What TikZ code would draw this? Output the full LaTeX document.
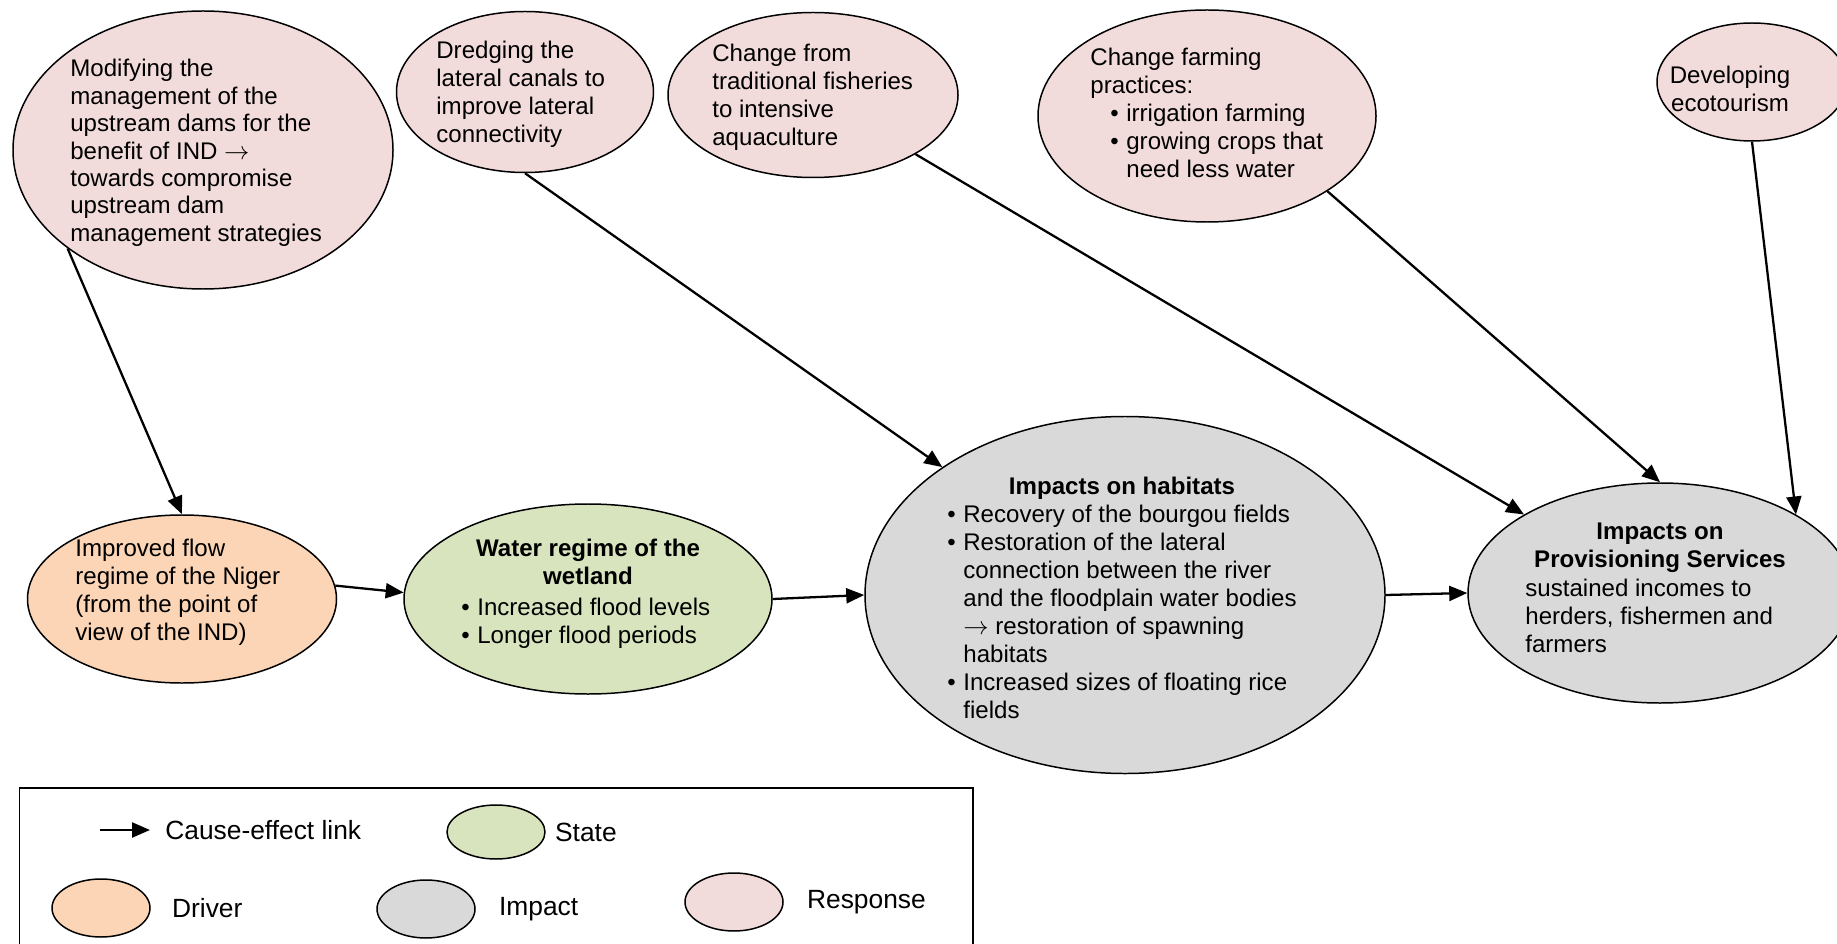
\documentclass[tikz,border=0pt]{standalone}
\usepackage{fontspec}
\setmainfont{Liberation Sans}
\usepackage{tikz}
\usetikzlibrary{arrows.meta,positioning,shapes.geometric}
\definecolor{respfill}{HTML}{F2DCDB}
\definecolor{drvfill}{HTML}{FBD5B5}
\definecolor{statefill}{HTML}{D7E4BD}
\definecolor{impfill}{HTML}{D9D9D9}
\newlength\bulletw
\setlength\bulletw{3.2mm}
\newcommand\itm{\makebox[\bulletw][l]{\textbullet}}
\newcommand\itmgap{\hspace*{\bulletw}}

\begin{document}
\begin{tikzpicture}[
      x=0.2mm,y=-0.2mm,
      every node/.style={font=\fontsize{13.7}{15.9}\selectfont},
      ell/.style={ellipse,draw=black,line width=0.85pt,inner sep=0pt},
      resp/.style={ell,fill=respfill},
      drv/.style={ell,fill=drvfill},
      stat/.style={ell,fill=statefill},
      impc/.style={ell,fill=impfill},
      txt/.style={inner sep=0pt,align=left,anchor=north west},
      ttl/.style={inner sep=0pt,align=center,anchor=north,font=\fontsize{13.7}{15.9}\selectfont\bfseries},
      link/.style={-{Triangle[length=3.6mm,width=3mm]},line width=1.3pt},
      leg/.style={inner sep=0pt,font=\fontsize{15}{18}\selectfont}
    ]
    \useasboundingbox (0,0) rectangle (1837,944);

    \node[resp,minimum width=76mm,minimum height=55.6mm] (mod) at (203,150) {};
    \node[txt,font=\fontsize{13.7}{15.6}\selectfont] at (70,59) {Modifying the\\management of the\\upstream dams for the\\benefit of IND $\rightarrow$\\towards compromise\\upstream dam\\management strategies};

    \node[resp,minimum width=51.4mm,minimum height=32.2mm] (dred) at (525,92) {};
    \node[txt] at (436,41) {Dredging the\\lateral canals to\\improve lateral\\connectivity};

    \node[resp,minimum width=58mm,minimum height=33mm] (fish) at (813,95) {};
    \node[txt] at (712,44) {Change from\\traditional fisheries\\to intensive\\aquaculture};

    \node[resp,minimum width=67.6mm,minimum height=42.4mm] (farm) at (1207,116) {};
    \node[txt] at (1090,48) {Change farming\\practices:\\\hspace*{4mm}\itm irrigation farming\\\hspace*{4mm}\itm growing crops that\\\hspace*{4mm}\itmgap need less water};

    \node[resp,minimum width=38mm,minimum height=23.6mm] (eco) at (1752,82) {};
    \node[txt,align=center,anchor=north] at (1730,66) {Developing\\ecotourism};

    \node[drv,minimum width=61.8mm,minimum height=33.6mm] (flow) at (182,599) {};
    \node[txt] at (75,539) {Improved flow\\regime of the Niger\\(from the point of\\view of the IND)};

    \node[stat,minimum width=73.6mm,minimum height=38mm] (water) at (588,599) {};
    \node[ttl] at (588,539) {Water regime of the\\wetland};
    \node[txt] at (461,598) {\itm Increased flood levels\\\itm Longer flood periods};

    \node[impc,minimum width=104mm,minimum height=71.4mm] (hab) at (1125,595) {};
    \node[ttl] at (1122,477) {Impacts on habitats};
    \node[txt] at (947,505) {\itm Recovery of the bourgou fields\\\itm Restoration of the lateral\\\itmgap connection between the river\\\itmgap and the floodplain water bodies\\\itmgap $\rightarrow$ restoration of spawning\\\itmgap habitats\\\itm Increased sizes of floating rice\\\itmgap fields};

    \node[impc,minimum width=76.8mm,minimum height=44mm] (prov) at (1660,593) {};
    \node[ttl] at (1660,523) {Impacts on\\Provisioning Services};
    \node[txt] at (1525,579) {sustained incomes to\\herders, fishermen and\\farmers};

    \draw[link] (mod.216) -- (flow.north);
    \draw[link] (dred.south) -- (hab.145);
    \draw[link] (fish.-30) -- (prov.150);
    \draw[link] (farm.-32) -- (prov.north);
    \draw[link] (eco.south) -- (prov.30);
    \draw[link] (flow.5) -- (water.178);
    \draw[link] (water.east) -- (hab.west);
    \draw[link] (hab.east) -- (prov.west);

    \node[draw=black,line width=0.85pt,minimum width=190.6mm,minimum height=33mm,anchor=north west,inner sep=0pt] (legend) at (19,787) {};
    \coordinate (lfrom) at (100,830);
    \coordinate (lto) at (150,830);
    \draw[link] (lfrom) -- (lto);
    \node[leg,right=3mm of lto] {Cause-effect link};
    \node[stat,minimum width=19.6mm,minimum height=10.8mm] (legstate) at (496,832) {};
    \node[leg,right=1.8mm of legstate] {State};
    \node[drv,minimum width=19.6mm,minimum height=11.6mm] (legdrv) at (101,908) {};
    \node[leg,right=4.2mm of legdrv] {Driver};
    \node[impc,minimum width=19.6mm,minimum height=11.6mm] (legimp) at (426,909) {};
    \node[leg,right=4.6mm of legimp] {Impact};
    \node[resp,minimum width=19.6mm,minimum height=11.6mm] (legresp) at (734,902) {};
    \node[leg,right=4.6mm of legresp] {Response};
  \end{tikzpicture}
\end{document}
